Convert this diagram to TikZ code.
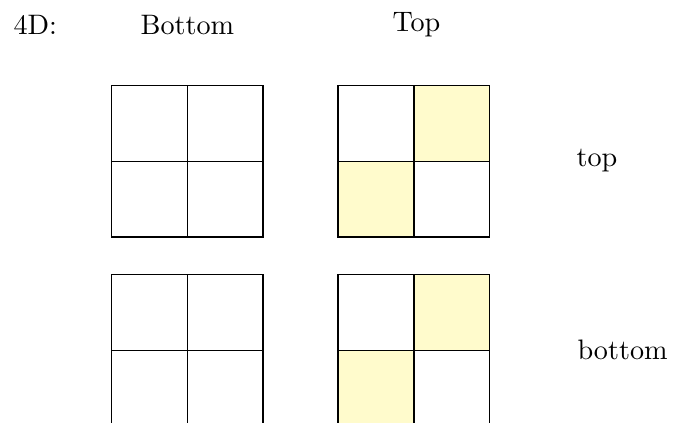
\documentclass[tikz,border=0pt]{standalone}
\definecolor{cellyellow}{RGB}{255,251,204}
\tikzset{
  lbl/.style={inner sep=0pt, anchor=base west},
  gridline/.style={draw=black, line width=0.4pt},
  hot/.style={fill=cellyellow}
}
\begin{document}
\begin{tikzpicture}[x=0.355pt, y=-0.355pt]
\useasboundingbox (0,0) rectangle (673,423);
\clip (0,0) rectangle (673,423);
% labels
\node[lbl] (l4d) at (13,35) {4D:};
\node[lbl] (lbottom) at (140,35) {Bottom};
\node[lbl] (ltop) at (392,32) {Top};
\node[lbl] (rtop) at (576,167) {top};
\node[lbl] (rbottom) at (577,360) {bottom};
% top row, left grid
\draw[gridline] (111.5,85.5) rectangle (263,237);
\draw[gridline] (187.25,85.5) -- (187.25,237);
\draw[gridline] (111.5,161.25) -- (263,161.25);
% top row, right grid
\filldraw[gridline,hot] (414,85.5) rectangle (489.5,161.25);
\filldraw[gridline,hot] (338,161.25) rectangle (414,237);
\draw[gridline] (338,85.5) rectangle (489.5,237);
\draw[gridline] (414,85.5) -- (414,237);
\draw[gridline] (338,161.25) -- (489.5,161.25);
% bottom row, left grid
\draw[gridline] (111.5,274.5) rectangle (263,426);
\draw[gridline] (187.25,274.5) -- (187.25,426);
\draw[gridline] (111.5,350.25) -- (263,350.25);
% bottom row, right grid
\filldraw[gridline,hot] (414,274.5) rectangle (489.5,350.25);
\filldraw[gridline,hot] (338,350.25) rectangle (414,426);
\draw[gridline] (338,274.5) rectangle (489.5,426);
\draw[gridline] (414,274.5) -- (414,426);
\draw[gridline] (338,350.25) -- (489.5,350.25);
\end{tikzpicture}
\end{document}
